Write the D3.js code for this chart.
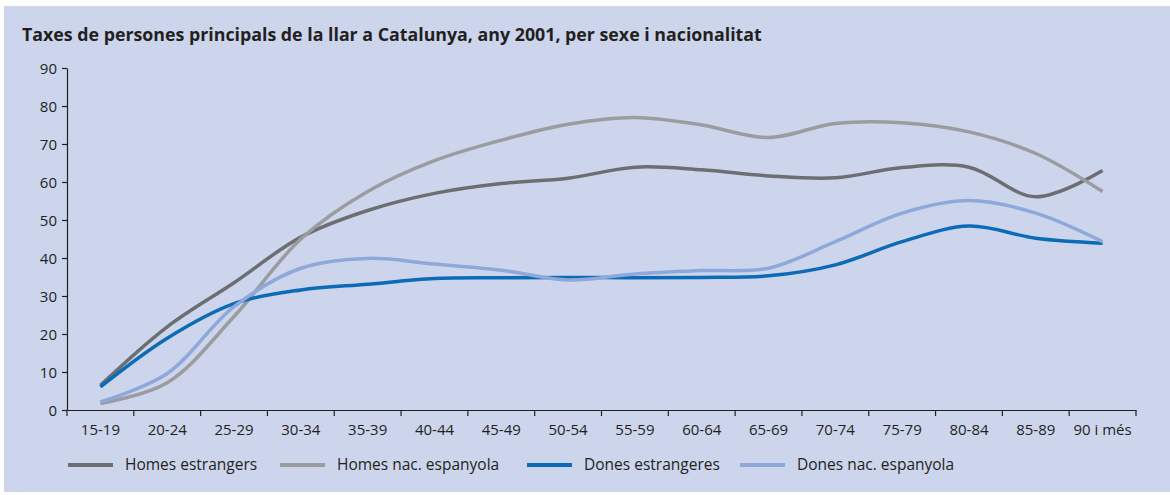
<!DOCTYPE html>
<meta charset="utf-8">
<html>
<head>
<title>Taxes de persones principals</title>
<style>
  body { margin: 0; background: #fff; }
  svg { display: block; }
  text { font-family: "Open Sans", "Noto Sans", sans-serif; fill: #231f20; }
  .axis path, .axis line { stroke: #231f20; stroke-width: 1.2; }
  .axis text { font-size: 15px; }
</style>
</head>
<body>
<svg id="chart" width="1170" height="495"></svg>
<script src="https://cdnjs.cloudflare.com/ajax/libs/d3/7.8.5/d3.min.js"></script>
<script>
// categories (age groups) and the four series
var ages = ["15-19","20-24","25-29","30-34","35-39","40-44","45-49","50-54",
            "55-59","60-64","65-69","70-74","75-79","80-84","85-89","90 i més"];
var homesEstr  = [6.5, 21.9, 33.5, 45.5, 52.5, 57, 59.6, 61, 63.9, 63.2, 61.6, 61.1, 63.8, 63.9, 56.1, 63];
var homesNac   = [1.7, 7.2, 24.6, 45, 57.5, 65.6, 71, 75.2, 77, 75, 71.7, 75.4, 75.6, 73.2, 67.5, 57.5];
var donesEstr  = [6.1, 18.9, 28, 31.6, 33.1, 34.6, 34.8, 34.9, 34.8, 34.9, 35.3, 38.2, 44.3, 48.4, 45.2, 43.9];
var donesNac   = [2.1, 9.6, 27.2, 37.3, 39.9, 38.4, 36.8, 34.2, 35.8, 36.7, 37.3, 44.3, 51.8, 55.1, 51.8, 44.3];
var seriesNames = ["Homes estrangers", "Homes nac. espanyola", "Dones estrangeres", "Dones nac. espanyola"];
var yTicks = [0,10,20,30,40,50,60,70,80,90];

var colors = ["#6d6e71", "#9a9c9f", "#0b6bb7", "#8ea8da"];
var series = [homesEstr, homesNac, donesEstr, donesNac];

var svg = d3.select("#chart");

// panel background
svg.append("rect")
  .attr("x", 4).attr("y", 6)
  .attr("width", 1166).attr("height", 486)
  .attr("fill", "#ccd5ec");

svg.append("text")
  .attr("x", 22).attr("y", 41)
  .style("font-size", "17.8px")
  .style("font-weight", "bold")
  .text("Taxes de persones principals de la llar a Catalunya, any 2001, per sexe i nacionalitat");

var x = d3.scaleBand().domain(ages).range([67, 1136]);
var y = d3.scaleLinear().domain([0, 90]).range([410, 68]);

// axes
var yAxis = svg.append("g")
  .attr("class", "axis")
  .attr("transform", "translate(67,0)")
  .call(d3.axisLeft(y).tickValues(yTicks).tickSize(5).tickPadding(5).tickSizeOuter(0));
yAxis.selectAll("text").attr("dy", "0.35em");

var xAxis = svg.append("g")
  .attr("class", "axis")
  .attr("transform", "translate(0,410)")
  .call(d3.axisBottom(x).tickSize(0).tickPadding(14).tickSizeOuter(0));

// band-edge ticks on the x axis
xAxis.selectAll(".edge")
  .data(ages.concat(["_end"]))
  .enter().append("line")
  .attr("class", "edge")
  .attr("x1", function(d, i){ return x.range()[0] + i * x.bandwidth(); })
  .attr("x2", function(d, i){ return x.range()[0] + i * x.bandwidth(); })
  .attr("y1", 0).attr("y2", 6);

// lines
var line = d3.line()
  .x(function(d, i){ return x(ages[i]) + x.bandwidth() / 2; })
  .y(function(d){ return y(d); })
  .curve(d3.curveCatmullRom.alpha(0.5));

svg.selectAll(".serie")
  .data(series)
  .enter().append("path")
  .attr("class", "serie")
  .attr("d", line)
  .attr("fill", "none")
  .attr("stroke", function(d, i){ return colors[i]; })
  .attr("stroke-width", 3.5);

// legend
var legendX = [68, 280, 527, 740];
var leg = svg.selectAll(".leg")
  .data(seriesNames)
  .enter().append("g")
  .attr("class", "leg")
  .attr("transform", function(d, i){ return "translate(" + legendX[i] + ",465)"; });
leg.append("line")
  .attr("x1", 0).attr("x2", 45)
  .attr("stroke", function(d, i){ return colors[i]; })
  .attr("stroke-width", 4);
leg.append("text")
  .attr("x", 57).attr("dy", "0.35em")
  .style("font-size", "15.5px")
  .text(function(d){ return d; });
</script>
</body>
</html>
